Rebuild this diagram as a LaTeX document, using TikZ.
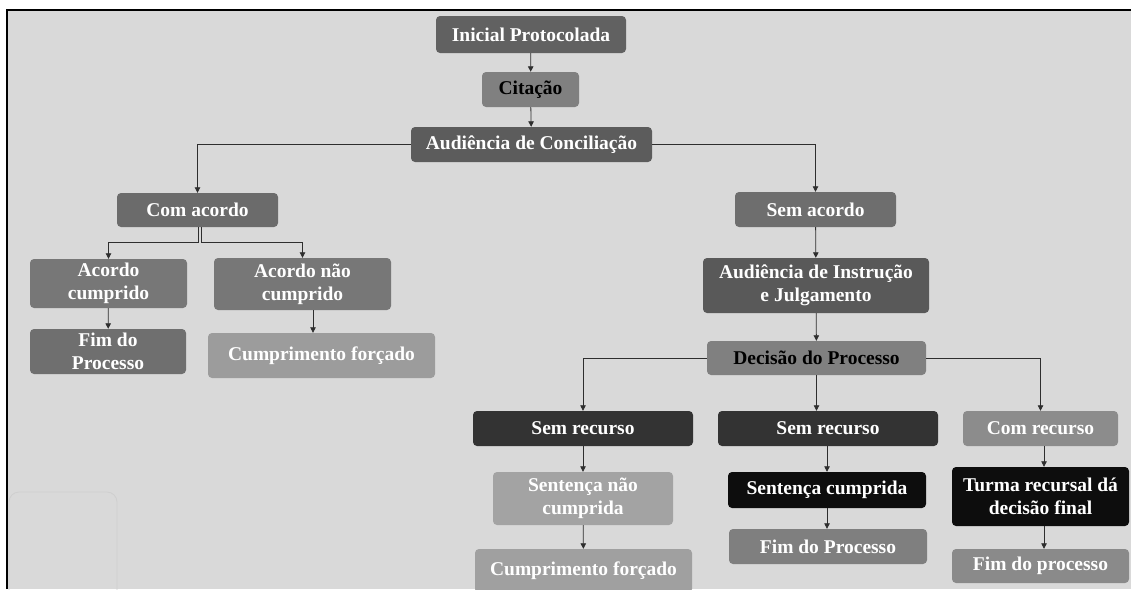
\documentclass[tikz,border=0pt]{standalone}
\usepackage{fontspec}
\setmainfont{Liberation Serif}
\usetikzlibrary{arrows.meta}
\definecolor{bg}{HTML}{D9D9D9}
\definecolor{gA}{HTML}{616161}
\definecolor{gB}{HTML}{808080}
\definecolor{gC}{HTML}{5C5C5C}
\definecolor{gD}{HTML}{6B6B6B}
\definecolor{gE}{HTML}{777777}
\definecolor{gF}{HTML}{6F6F6F}
\definecolor{gG}{HTML}{9C9C9C}
\definecolor{gH}{HTML}{6E6E6E}
\definecolor{gI}{HTML}{595959}
\definecolor{gJ}{HTML}{333333}
\definecolor{gK}{HTML}{8C8C8C}
\definecolor{gL}{HTML}{A3A3A3}
\definecolor{gM}{HTML}{0D0D0D}
\definecolor{gN}{HTML}{A0A0A0}
\definecolor{gO}{HTML}{7F7F7F}
\definecolor{gP}{HTML}{8A8A8A}
\definecolor{lineC}{HTML}{2E2E2E}
\definecolor{faint}{HTML}{CFCFCF}
\tikzset{
  bx/.style 2 args={rounded corners=4pt, minimum width=#1, minimum height=#2,
    inner sep=0pt, align=center, text=white,
    font=\fontsize{19.5}{23}\selectfont\bfseries},
  conn/.style={draw=lineC, line width=0.8pt, -{Triangle[width=5.5pt,length=5.5pt]}}
}
\begin{document}
\begin{tikzpicture}[x=1pt,y=-1pt]
\useasboundingbox (0,0) rectangle (1131,589);
\fill[white] (0,0) rectangle (1131,589);
\fill[bg] (7,10) rectangle (1131,589);
\draw[line width=2pt] (7,589) -- (7,10) -- (1131,10);
\draw[faint, line width=0.8pt, rounded corners=10pt] (9,600) -- (9,492) -- (117,492) -- (117,600);

% top chain
\node[bx={190pt}{37pt}, fill=gA] (ini) at (531,34.5) {Inicial Protocolada};
\node[bx={97pt}{35pt}, fill=gB, text=black] (cit) at (530.5,89.5) {Citação};
\node[bx={241pt}{35pt}, fill=gC] (conc) at (531.5,144.5) {Audiência de Conciliação};

% left branch
\node[bx={161pt}{34pt}, fill=gD] (comac) at (197.5,210) {Com acordo};
\node[bx={157pt}{49pt}, fill=gE] (acc) at (108.5,283.5) {Acordo\\cumprido};
\node[bx={177pt}{52pt}, fill=gE] (anc) at (302.5,284) {Acordo não\\cumprido};
\node[bx={156pt}{45pt}, fill=gF] (fimL) at (108,351.5) {Fim do\\Processo};
\node[bx={227pt}{45pt}, fill=gG] (cfL) at (321.5,355.5) {Cumprimento forçado};

% right branch
\node[bx={161pt}{35pt}, fill=gH] (semac) at (815.5,209.5) {Sem acordo};
\node[bx={226pt}{55pt}, fill=gI] (aij) at (816,285.5) {Audiência de Instrução\\e Julgamento};
\node[bx={219pt}{34pt}, fill=gB, text=black] (dec) at (816.5,358) {Decisão do Processo};

\node[bx={220pt}{35pt}, fill=gJ] (srL) at (583,428.5) {Sem recurso};
\node[bx={220pt}{35pt}, fill=gJ] (srM) at (828,428.5) {Sem recurso};
\node[bx={155pt}{35pt}, fill=gK] (comrec) at (1040.5,428.5) {Com recurso};

\node[bx={180pt}{53pt}, fill=gL] (snc) at (583,498.5) {Sentença não\\cumprida};
\node[bx={217pt}{44pt}, fill=gN] (cfB) at (583.5,571) {Cumprimento forçado};
\node[bx={198pt}{36pt}, fill=gM] (scump) at (827,490) {Sentença cumprida};
\node[bx={198pt}{35pt}, fill=gO] (fimM) at (828,546.5) {Fim do Processo};
\node[bx={177pt}{59pt}, fill=gM] (turma) at (1040.5,496.5) {Turma recursal dá\\decisão final};
\node[bx={177pt}{34pt}, fill=gP] (fimR) at (1040.5,566) {Fim do processo};

% connectors
\draw[conn] (ini) -- (cit);
\draw[conn] (cit) -- (conc);
\draw[conn] (conc.west) -| (comac.north);
\draw[conn] (conc.east) -| (semac.north);
\draw[conn] ([xshift=1pt]comac.south) -- ++(0,15) -| (acc.north);
\draw[conn] ([xshift=4pt]comac.south) -- ++(0,15) -| (anc.north);
\draw[conn] (acc) -- (fimL);
\draw[conn] (anc.south -| 313,0) -- (cfL.north -| 313,0);
\draw[conn] (semac) -- (aij);
\draw[conn] (aij) -- (dec);
\draw[conn] (dec.west) -| (srL.north);
\draw[conn] (dec.south) -- (dec.south |- srM.north);
\draw[conn] (dec.east) -| (comrec.north);
\draw[conn] (srL) -- (snc);
\draw[conn] (snc) -- (cfB);
\draw[conn] (srM.south -| scump.south) -- (scump.north);
\draw[conn] (scump) -- (fimM.north -| scump.south);
\draw[conn] (comrec.south -| 1044,0) -- (turma.north -| 1044,0);
\draw[conn] (turma.south -| 1044,0) -- (fimR.north -| 1044,0);
\end{tikzpicture}
\end{document}
